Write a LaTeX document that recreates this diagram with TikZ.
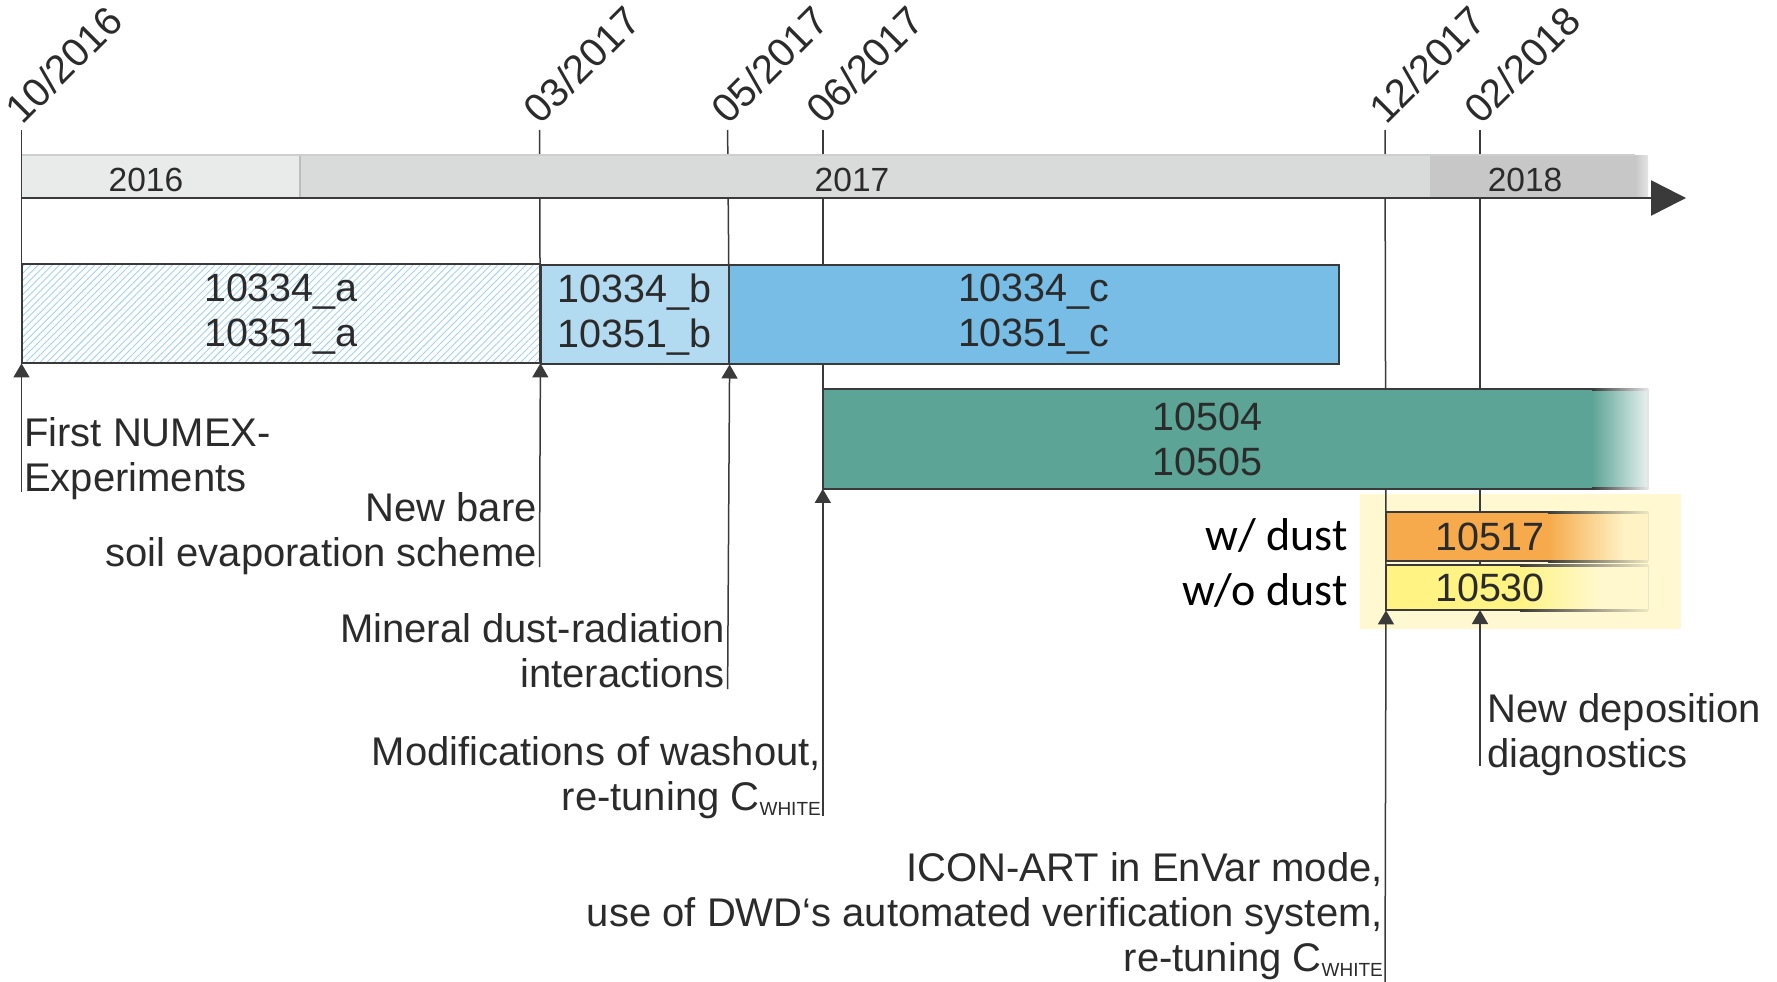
\documentclass[tikz,border=0pt]{standalone}
\usepackage{fontspec}
\setmainfont{Liberation Sans}
\newfontfamily\carlito{Carlito}
\usetikzlibrary{arrows.meta,patterns.meta,backgrounds}
\definecolor{txt}{HTML}{2B2B2B}
\definecolor{bord}{HTML}{3A3A3A}
\definecolor{y16}{HTML}{E9EAEA}
\definecolor{y17}{HTML}{D9DADA}
\definecolor{y18}{HTML}{C6C7C6}
\definecolor{bartop}{HTML}{CDCECE}
\definecolor{hatch}{HTML}{A3D2F0}
\definecolor{lb}{HTML}{B2DAF1}
\definecolor{mb}{HTML}{77BDE6}
\definecolor{gr}{HTML}{5CA596}
\definecolor{grl}{HTML}{E6F0EE}
\definecolor{org}{HTML}{F6AA4B}
\definecolor{orgl}{HTML}{FFF3C6}
\definecolor{ylw}{HTML}{FFF383}
\definecolor{ylwl}{HTML}{FFF8CE}
\definecolor{ybg}{HTML}{FFF8D0}
\definecolor{yline}{HTML}{EDE6C2}
\definecolor{fadeline}{HTML}{E4E4E4}
\newcommand\csub[1]{\raisebox{-5pt}{\fontsize{19}{19}\selectfont #1}}
\begin{document}
\begin{tikzpicture}[x=1pt,y=-1pt,
  lbl/.style={font=\fontsize{40}{45}\selectfont, text=txt, inner sep=0pt},
  yearlbl/.style={font=\fontsize{33.5}{40}\selectfont, text=txt, inner sep=0pt, anchor=base},
  datelbl/.style={font=\fontsize{40}{44}\selectfont, text=txt, inner sep=0pt, rotate=45, anchor=base west},
  carl/.style={font=\carlito\fontsize{46}{55}\selectfont, text=black, inner sep=0pt, anchor=base east},
  box/.style={font=\fontsize{39.5}{45}\selectfont, text=txt, inner sep=0pt, align=center, anchor=north west},
  bline/.style={draw=bord, line width=2pt},
  guide/.style={draw=bord, line width=1.5pt},
  arr/.style={guide, -{Triangle[width=16pt,length=14pt]}}
]
\useasboundingbox (0,0) rectangle (1777,982);

% date labels and their guide tops
\coordinate (t1) at (21.5,130);
\coordinate (t2) at (539.5,130);
\coordinate (t3) at (727.6,130);
\coordinate (t4) at (822.8,130);
\coordinate (t5) at (1385,130);
\coordinate (t6) at (1480,130);
\node[datelbl] (d1) at (22.5,126) {10/2016};
\node[datelbl] (d2) at (540.5,126) {03/2017};
\node[datelbl] (d3) at (728.6,126) {05/2017};
\node[datelbl] (d4) at (823.8,126) {06/2017};
\node[datelbl] (d5) at (1386,126) {12/2017};
\node[datelbl] (d6) at (1481,126) {02/2018};

% timeline bar
\fill[y16] (21.5,155) rectangle (300,198);
\fill[y17] (300,155) rectangle (1430,198);
\fill[y18] (1430,155) rectangle (1635,198);
\shade[left color=y18, right color=fadeline] (1635,155) rectangle (1648,198);
\draw[bartop, line width=2.5pt] (21.5,155) -- (1635,155);
\draw[y18!95!black, line width=2.5pt] (300,156) -- (300,197);
\node[yearlbl] (s16) at (146,191.7) {2016};
\node[yearlbl] (s17) at (852,191.7) {2017};
\node[yearlbl] (s18) at (1525,191.7) {2018};
\coordinate (ax0) at (20.5,198);
\coordinate (ax1) at (1686,198);
\draw[draw=bord, line width=2.5pt, -{Triangle[width=35pt,length=35pt]}] (ax0) -- (ax1);

% row 1 boxes
\node[box, bline, preaction={fill=white}, pattern={Lines[angle=45,distance=5pt,line width=0.9pt]}, pattern color=hatch,
      minimum width=518pt, minimum height=98.5pt] (a) at (21.5,264) {10334\_a\\10351\_a};
\node[box, bline, fill=lb, minimum width=188.1pt, minimum height=98.5pt] (b) at (539.5,264) {10334\_b\\10351\_b};
\node[box, bline, fill=mb, minimum width=610.4pt, minimum height=98.5pt] (c) at (727.6,264) {10334\_c\\10351\_c};

% green box (fading at right)
\node[box, fill=gr, minimum width=769.2pt, minimum height=99.5pt] (g) at (822.8,389) {10504\\10505};
\shade[left color=gr, right color=grl] (1592,389) rectangle (1648,488.5);
\draw[bline] (g.north east) -- (g.north west) -- (g.south west) -- (g.south east);
\shade[left color=bord, right color=fadeline] (1592,388) rectangle (1648,390);
\shade[left color=bord, right color=fadeline] (1592,487.5) rectangle (1648,489.5);
\draw[fadeline, line width=1.5pt] (1648,389) -- (1648,488.5);

% orange box
\node[box, fill=org, minimum width=162pt, minimum height=49pt] (o) at (1386,512) {};
\shade[left color=org, right color=orgl] (1548,512) rectangle (1625,561);
\fill[orgl] (1625,512) rectangle (1648,561);
\draw[bline] (o.north east) -- (o.north west) -- (o.south west) -- (o.south east);
\shade[left color=bord, right color=yline] (1548,511) rectangle (1648,513);
\shade[left color=bord, right color=yline] (1548,560) rectangle (1648,562);
\draw[yline, line width=1pt] (1648,512) -- (1648,561);
\node[lbl, font=\fontsize{39.5}{45}\selectfont, anchor=base] (o1) at (1490,550) {10517};

% yellow box
\node[box, fill=ylw, minimum width=134pt, minimum height=45pt] (yb) at (1386,565) {};
\shade[left color=ylw, right color=ylwl] (1520,565) rectangle (1600,610);
\fill[ylwl] (1600,565) rectangle (1648,610);
\draw[bline] (yb.north east) -- (yb.north west) -- (yb.south west) -- (yb.south east);
\shade[left color=bord, right color=yline] (1520,564) rectangle (1648,566);
\shade[left color=bord, right color=yline] (1520,609) rectangle (1648,611);
\draw[yline, line width=1pt] (1648,565) -- (1648,610);
\node[lbl, font=\fontsize{39.5}{45}\selectfont, anchor=base] (y1) at (1490,601.7) {10530};
\coordinate (yb2) at (1480,610);

\node[carl] (wd) at (1348,550) {w/ dust};
\node[carl] (wod) at (1348,605) {w/o dust};

% background: highlight and guides
\begin{scope}[on background layer]
\fill[ybg] (1360,494) rectangle (1681,629);
\draw[guide] (t1) -- (a.south west);
\draw[guide] (t2) -- (a.south east);
\draw[guide] (t3) -- (b.south east);
\draw[guide] (t4) -- (g.south west);
\draw[guide] (t5) -- (yb.south west);
\draw[guide] (t6) -- (yb2);
\end{scope}

% event labels and arrows (base anchor = last line baseline)
\node[lbl, align=left, anchor=base west] (l1) at (24,491.7) {First NUMEX-\\Experiments};
\coordinate (l1b) at (21.5,492);
\draw[arr] (l1b) -- (a.south west);

\node[lbl, align=right, anchor=base east] (l2) at (537,566.7) {New bare\\soil evaporation scheme};
\coordinate (l2b) at (539.5,567);
\draw[arr] (l2b) -- (a.south east);

\node[lbl, align=right, anchor=base east] (l3) at (725,687.6) {Mineral dust-radiation\\interactions};
\coordinate (l3b) at (727.6,689);
\draw[arr] (l3b) -- (b.south east);

\node[lbl, align=right, anchor=base east] (l4) at (821,810) {Modifications of washout,\\re-tuning C\csub{WHITE}};
\coordinate (l4b) at (822.8,816);
\draw[arr] (l4b) -- (g.south west);

\node[lbl, align=left, anchor=base west] (l5) at (1487,767) {New deposition\\diagnostics};
\coordinate (l5b) at (1480,766);
\draw[arr] (l5b) -- (yb2);

\node[lbl, align=right, anchor=base east] (l6) at (1383,971) {ICON-ART in EnVar mode,\\use of DWD‘s automated verification system,\\re-tuning C\csub{WHITE}};
\coordinate (l6b) at (1385,982);
\draw[arr] (l6b) -- (yb.south west);
\end{tikzpicture}
\end{document}
